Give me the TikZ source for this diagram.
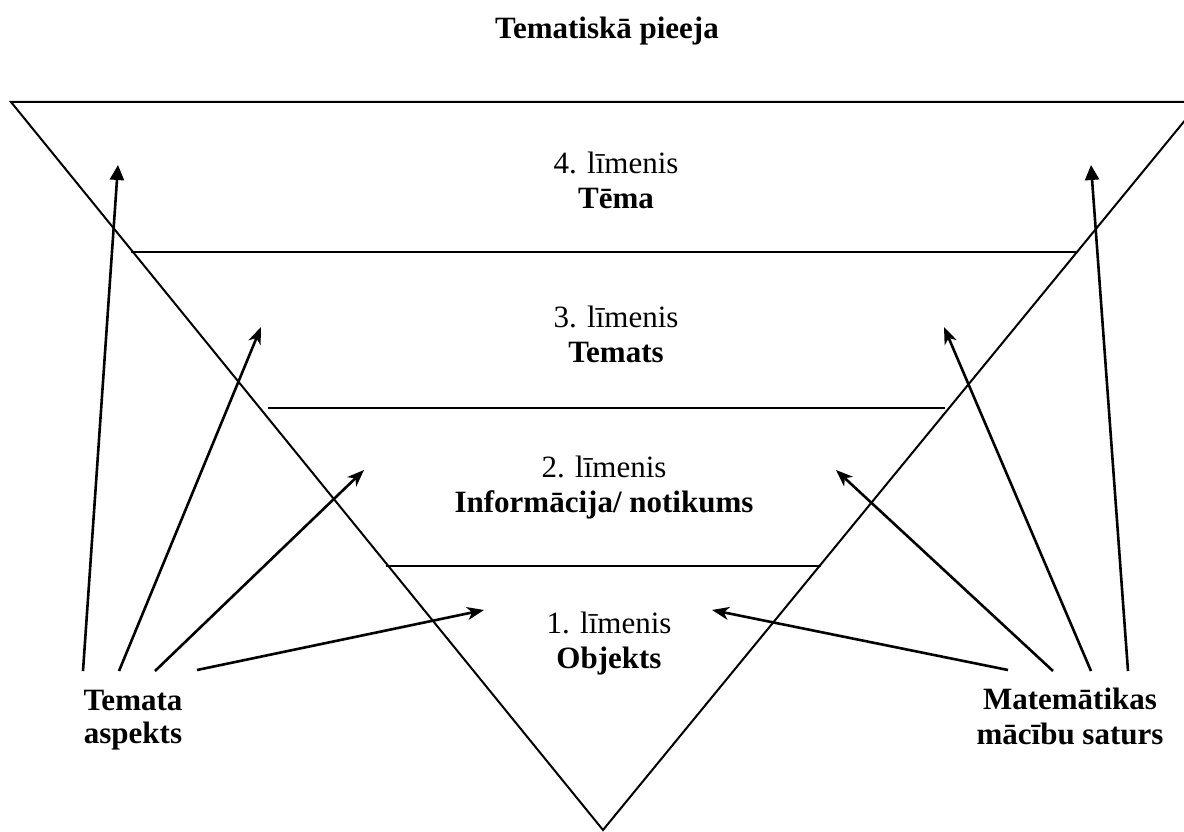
\documentclass[tikz,border=0pt]{standalone}
\usepackage{fontspec}
\setmainfont{Liberation Serif}
\usetikzlibrary{arrows.meta}
\tikzset{
  frame/.style={line width=2pt, black},
  arr/.style={line width=2.6pt, -{Stealth[length=17pt,width=13pt,inset=5pt]}},
  arrbig/.style={line width=2.6pt, -{Triangle[length=15pt,width=14pt]}},
  lbl/.style={align=center, inner sep=0pt, font=\fontsize{31}{35}\selectfont},
}
\begin{document}
\begin{tikzpicture}[x=1pt,y=-1pt]
\useasboundingbox (0,0) rectangle (1184,832);
\clip (0,0) rectangle (1184,832);
\fill[white] (0,0) rectangle (1184,832);
% triangle
\coordinate (tl) at (11,102);
\coordinate (tr) at (1200,102);
\coordinate (ap) at (603,830);
\draw[frame, line join=miter] (tr) -- (tl) -- (ap) -- (tr);
% level lines
\coordinate (l4a) at (131,252); \coordinate (l4b) at (1076,252);
\coordinate (l3a) at (268,408); \coordinate (l3b) at (945,408);
\coordinate (l2a) at (386,566); \coordinate (l2b) at (821,566);
\draw[frame] (l4a) -- (l4b);
\draw[frame] (l3a) -- (l3b);
\draw[frame] (l2a) -- (l2b);
% texts
\node[lbl, font=\fontsize{31}{35}\selectfont\bfseries] (title) at (607,31) {Tematiskā pieeja};
\node[lbl] (lev4) at (616,180) {4. līmenis\\\textbf{Tēma}};
\node[lbl] (lev3) at (616,334) {3. līmenis\\\textbf{Temats}};
\node[lbl] (lev2) at (604,488) {2. līmenis\\\textbf{Informācija/ notikums}};
\node[lbl] (lev1) at (609,644) {1. līmenis\\\textbf{Objekts}};
\node[lbl, font=\fontsize{31}{33}\selectfont\bfseries] (left) at (133,720) {Temata\\aspekts};
\node[lbl, font=\fontsize{31}{35}\selectfont\bfseries] (right) at (1070,716) {Matemātikas\\mācību saturs};
% arrow endpoints
\coordinate (ls1) at (83,671);  \coordinate (lt1) at (118,165);
\coordinate (ls2) at (119,671); \coordinate (lt2) at (261,327);
\coordinate (ls3) at (155,671); \coordinate (lt3) at (364,470);
\coordinate (ls4) at (197,670); \coordinate (lt4) at (484,610);
\coordinate (rs1) at (1128,671); \coordinate (rt1) at (1091,165);
\coordinate (rs2) at (1091,671); \coordinate (rt2) at (944,327);
\coordinate (rs3) at (1053,671); \coordinate (rt3) at (836,470);
\coordinate (rs4) at (1008,670); \coordinate (rt4) at (712,610);
\draw[arrbig] (ls1) -- (lt1);
\draw[arr] (ls2) -- (lt2);
\draw[arr] (ls3) -- (lt3);
\draw[arr] (ls4) -- (lt4);
\draw[arrbig] (rs1) -- (rt1);
\draw[arr] (rs2) -- (rt2);
\draw[arr] (rs3) -- (rt3);
\draw[arr] (rs4) -- (rt4);
\end{tikzpicture}
\end{document}
